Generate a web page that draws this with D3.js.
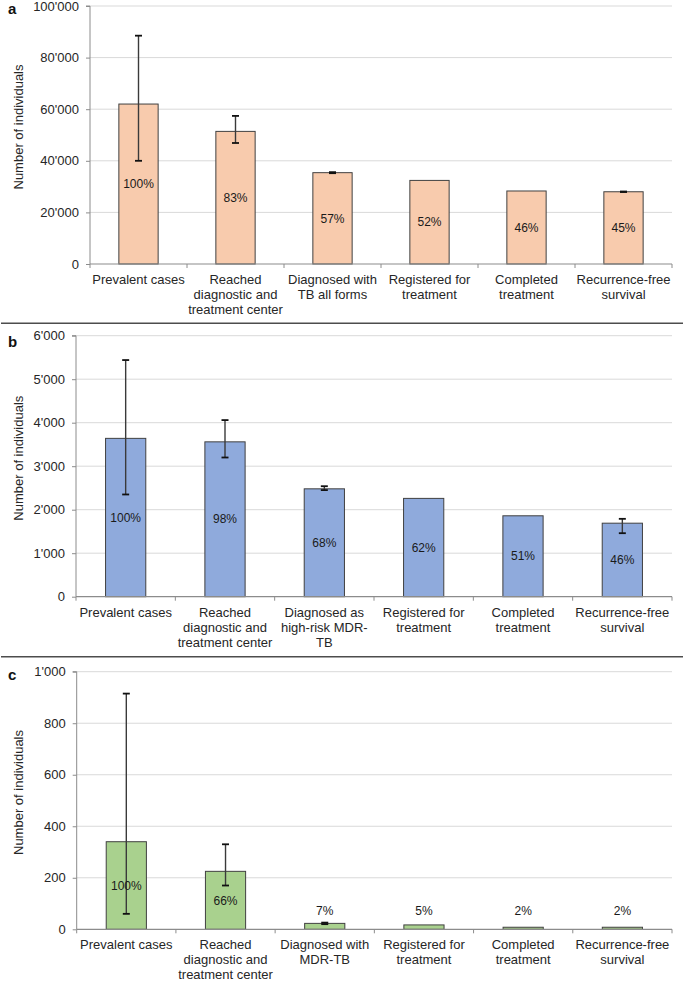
<!DOCTYPE html>
<html>
<head>
<meta charset="utf-8">
<script src="https://cdn.jsdelivr.net/npm/d3@7"></script>
<style>
  html, body { margin: 0; padding: 0; background: #fff; }
  svg { display: block; font-family: "Liberation Sans", Arial, sans-serif; }
</style>
</head>
<body>
<svg id="chart" width="685" height="981"></svg>
<script>
// ---------- DATA ----------
const categoriesA = [["Prevalent cases"], ["Reached", "diagnostic and", "treatment center"], ["Diagnosed with", "TB all forms"], ["Registered for", "treatment"], ["Completed", "treatment"], ["Recurrence-free", "survival"]];
const categoriesB = [["Prevalent cases"], ["Reached", "diagnostic and", "treatment center"], ["Diagnosed as", "high-risk MDR-", "TB"], ["Registered for", "treatment"], ["Completed", "treatment"], ["Recurrence-free", "survival"]];
const categoriesC = [["Prevalent cases"], ["Reached", "diagnostic and", "treatment center"], ["Diagnosed with", "MDR-TB"], ["Registered for", "treatment"], ["Completed", "treatment"], ["Recurrence-free", "survival"]];

const valuesA = [62000, 51400, 35400, 32400, 28300, 28000];
const errLowA = [40000, 46900, 35200, null, null, 27900];
const errHighA = [88500, 57400, 35600, null, null, 28100];
const pctA = ["100%", "83%", "57%", "52%", "46%", "45%"];
const ticksA = [0, 20000, 40000, 60000, 80000, 100000];

const valuesB = [3640, 3560, 2480, 2260, 1860, 1690];
const errLowB = [2350, 3200, 2450, null, null, 1460];
const errHighB = [5440, 4060, 2540, null, null, 1790];
const pctB = ["100%", "98%", "68%", "62%", "51%", "46%"];
const ticksB = [0, 1000, 2000, 3000, 4000, 5000, 6000];

const valuesC = [340, 225, 23, 17, 8, 8];
const errLowC = [60, 170, 20, null, null, null];
const errHighC = [915, 330, 26, null, null, null];
const pctC = ["100%", "66%", "7%", "5%", "2%", "2%"];
const ticksC = [0, 200, 400, 600, 800, 1000];

const panelLetters = ["a", "b", "c"];
const yTitle = "Number of individuals";

// ---------- LAYOUT ----------
const svg = d3.select("#chart");
const locale = d3.formatLocale({ decimal: ".", thousands: "'", grouping: [3], currency: ["", ""] });
const fmt = locale.format(",d");

const panels = [
  { cats: categoriesA, vals: valuesA, lo: errLowA, hi: errHighA, pct: pctA, ticks: ticksA,
    left: 90, top: 6, bottom: 264, fill: "#f8cbad", letterY: 9 },
  { cats: categoriesB, vals: valuesB, lo: errLowB, hi: errHighB, pct: pctB, ticks: ticksB,
    left: 76, top: 335.7, bottom: 596.7, fill: "#8faadc", letterY: 342 },
  { cats: categoriesC, vals: valuesC, lo: errLowC, hi: errHighC, pct: pctC, ticks: ticksC,
    left: 76.7, top: 671.7, bottom: 929.3, fill: "#a9d18e", letterY: 675 }
];
const right = 672;

panels.forEach((p, pi) => {
  const g = svg.append("g");
  const n = p.vals.length;
  const x = d3.scaleBand().domain(d3.range(n)).range([p.left, right]).padding(0);
  const y = d3.scaleLinear().domain([0, d3.max(p.ticks)]).range([p.bottom, p.top]);
  const barW = x.bandwidth() * 0.405;

  // gridlines
  g.selectAll("line.grid").data(p.ticks.filter(t => t > 0)).join("line")
    .attr("x1", p.left).attr("x2", right)
    .attr("y1", d => y(d)).attr("y2", d => y(d))
    .attr("stroke", "#d9d9d9").attr("stroke-width", 1);

  // y axis
  const yAxis = d3.axisLeft(y).tickValues(p.ticks).tickFormat(fmt).tickSize(4).tickPadding(7);
  const ya = g.append("g").attr("transform", `translate(${p.left},0)`).call(yAxis);
  ya.select(".domain").attr("stroke", "#8c8c8c").attr("d", `M-4,${y(d3.max(p.ticks))}H0V${p.bottom}`);
  ya.selectAll(".tick line").attr("stroke", "#8c8c8c");
  ya.selectAll(".tick text").attr("font-size", 13).attr("fill", "#262626")
    .attr("font-family", "Liberation Sans, Arial, sans-serif");

  // bars
  g.selectAll("rect.bar").data(p.vals).join("rect")
    .attr("x", (d, i) => x(i) + (x.bandwidth() - barW) / 2)
    .attr("y", d => y(d))
    .attr("width", barW)
    .attr("height", d => p.bottom - y(d))
    .attr("fill", p.fill)
    .attr("stroke", "#404040").attr("stroke-width", 1);

  // x axis (category boundaries)
  const xa = g.append("g");
  xa.append("line").attr("x1", p.left).attr("x2", right).attr("y1", p.bottom).attr("y2", p.bottom)
    .attr("stroke", "#8c8c8c").attr("stroke-width", 1.2);
  xa.selectAll("line.xt").data(d3.range(n + 1)).join("line")
    .attr("x1", i => p.left + i * x.step()).attr("x2", i => p.left + i * x.step())
    .attr("y1", p.bottom).attr("y2", p.bottom + 4)
    .attr("stroke", "#8c8c8c");

  // category labels
  p.cats.forEach((lines, i) => {
    const t = g.append("text")
      .attr("x", x(i) + x.bandwidth() / 2)
      .attr("text-anchor", "middle").attr("font-size", 13).attr("fill", "#262626");
    lines.forEach((ln, k) => {
      t.append("tspan").attr("x", x(i) + x.bandwidth() / 2)
        .attr("y", p.bottom + 20 + k * 15).text(ln);
    });
  });

  // error bars
  const errs = p.vals.map((v, i) => ({ i, lo: p.lo[i], hi: p.hi[i] })).filter(e => e.lo != null);
  const cap = 3.5;
  errs.forEach(e => {
    const cx = x(e.i) + x.bandwidth() / 2;
    g.append("line").attr("x1", cx).attr("x2", cx).attr("y1", y(e.hi)).attr("y2", y(e.lo))
      .attr("stroke", "#3a3a3a").attr("stroke-width", 1.4);
    [e.hi, e.lo].forEach(v => {
      g.append("line").attr("x1", cx - cap).attr("x2", cx + cap).attr("y1", y(v)).attr("y2", y(v))
        .attr("stroke", "#111").attr("stroke-width", 1.8);
    });
  });

  // percent labels
  g.selectAll("text.pct").data(p.vals).join("text")
    .attr("x", (d, i) => x(i) + x.bandwidth() / 2)
    .attr("y", d => {
      const h = p.bottom - y(d);
      return h < 20 ? p.bottom - 18.5 : (y(d) + p.bottom) / 2;
    })
    .attr("dy", "0.35em")
    .attr("text-anchor", "middle").attr("font-size", 12).attr("fill", "#1a1a1a")
    .text((d, i) => p.pct[i]);

  // y title
  const cy = (p.top + p.bottom) / 2 - 8;
  g.append("text").attr("transform", `translate(18,${cy}) rotate(-90)`)
    .attr("text-anchor", "middle").attr("dy", "0.35em")
    .attr("font-size", 13).attr("fill", "#262626").text(yTitle);

  // panel letter
  g.append("text").attr("x", 8).attr("y", p.letterY).attr("dy", "0.35em")
    .attr("font-size", 15).attr("font-weight", "bold").attr("fill", "#111").text(panelLetters[pi]);
});

// separators
[323.3, 656.7].forEach(yy => {
  svg.append("line").attr("x1", 1).attr("x2", 683).attr("y1", yy).attr("y2", yy)
    .attr("stroke", "#4d4d4d").attr("stroke-width", 1.4);
});
</script>
</body>
</html>
